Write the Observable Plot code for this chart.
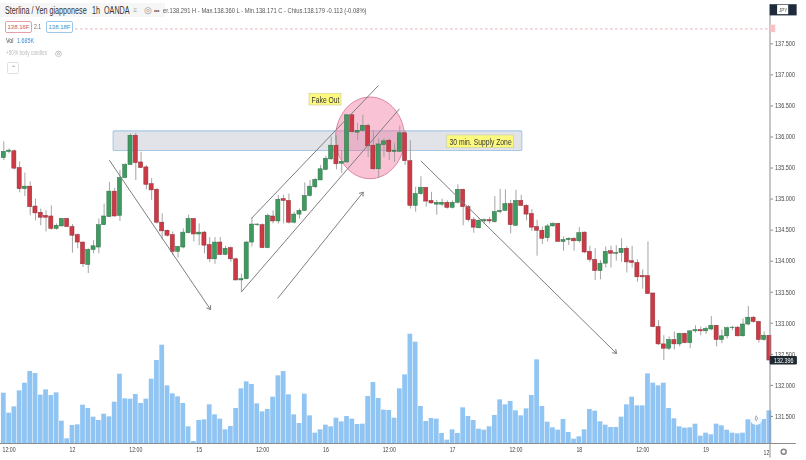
<!DOCTYPE html>
<html><head><meta charset="utf-8">
<script src="https://cdn.jsdelivr.net/npm/d3@7"></script>
<script src="https://cdn.jsdelivr.net/npm/@observablehq/plot@0.6"></script>
<style>
html,body{margin:0;padding:0;background:#fff;overflow:hidden}
#wrap{position:relative;width:806px;height:460px;filter:blur(.45px);font-family:"Liberation Sans",sans-serif}
#wrap>div.layer{position:absolute;left:0;top:0;width:806px;height:460px}
#wrap svg{position:absolute;left:0;top:0;background:transparent;overflow:visible;max-width:none}
.h{position:absolute;white-space:nowrap;line-height:1;transform-origin:0 50%;transform:scaleX(.72)}
.box{position:absolute;border-radius:2px;background:#fff;text-align:center;font-size:6px;line-height:10px;height:10px}
</style></head><body>
<div id="wrap">
<div style="position:absolute;left:0;top:3px;width:165px;height:14px;background:#f6f6f6"></div>
<div class="h" style="left:5px;top:6px;font-size:10px;color:#333">Sterlina / Yen giapponese</div>
<div class="h" style="left:92px;top:6px;font-size:10px;color:#333">1h</div>
<div class="h" style="left:104px;top:6px;font-size:10px;color:#333">OANDA</div>
<div class="h" style="left:133px;top:6px;font-size:9px;color:#aaa">≡</div>
<div class="h" style="left:144px;top:6px;font-size:9px;color:#999;transform:none">◎</div>
<div class="h" style="left:154px;top:7px;font-size:7px;color:#555">•••</div>
<div class="h" style="left:163px;top:7px;font-size:7.4px;color:#555;transform:scaleX(.785)">er.138.291 H - Max.138.360 L - Min.138.171 C - Chius.138.179 -0.113 (-0.08%)</div>
<div class="box" style="left:5px;top:21px;width:25px;border:1px solid #e6a0a8;color:#c25a66">138.16F</div>
<div class="h" style="left:34px;top:23px;font-size:7px;color:#666">2.1</div>
<div class="box" style="left:46px;top:21px;width:25px;border:1px solid #9cc8ea;color:#4a8fc4">138.18F</div>
<div class="h" style="left:6px;top:37px;font-size:7.5px;color:#444">Vol</div>
<div class="h" style="left:17px;top:37px;font-size:7.5px;color:#3f8fd0">1.685K</div>
<div class="h" style="left:6px;top:50px;font-size:6.5px;color:#bbb">+50% body candles</div>
<div class="h" style="left:55px;top:50px;font-size:8px;color:#999;transform:none">◎</div>
<div class="box" style="left:7px;top:62px;width:10px;border:1px solid #e2e2e2;color:#777;font-size:6px">⌃</div>
<div class="layer" id="vol"></div>
<div class="layer" id="price"></div>
</div>
<script>
const high=[135.92,135.81,135.79,135.60,135.42,135.28,135.00,134.84,134.81,134.89,134.60,134.69,134.69,134.59,134.44,134.31,134.20,134.33,134.68,134.92,135.27,135.17,135.46,135.57,136.05,136.06,135.75,135.54,135.33,135.17,134.76,134.50,134.47,134.24,134.52,134.74,134.68,134.60,134.48,134.38,134.38,134.38,134.24,134.23,134.05,133.79,134.32,134.70,134.60,134.60,134.76,134.81,135.06,135.06,135.08,134.79,134.84,135.26,135.30,135.33,135.54,135.69,136.00,136.02,135.78,136.35,136.35,136.22,136.35,136.21,136.10,135.97,135.97,135.97,135.89,136.18,136.10,135.94,135.19,135.36,135.18,135.11,134.98,135.00,134.97,134.97,135.23,135.16,134.90,134.70,134.68,134.68,134.70,135.04,135.16,135.15,134.98,135.14,135.06,134.91,134.83,134.66,134.55,134.59,134.62,134.61,134.39,134.38,134.38,134.54,134.47,134.24,134.20,134.01,134.23,134.24,134.25,134.36,134.23,134.24,134.02,133.86,134.31,133.48,133.04,132.80,132.78,132.86,132.84,132.84,132.88,132.96,132.94,132.94,133.11,132.96,132.89,132.94,132.95,132.95,133.07,133.27,133.11,133.03,132.86,132.80];
const low=[135.62,135.73,135.47,135.10,135.04,134.73,134.65,134.57,134.47,134.50,134.50,134.55,134.54,134.13,134.20,133.90,133.80,134.12,134.12,134.57,134.71,134.71,134.64,135.33,135.54,135.30,135.49,135.15,134.98,134.60,134.34,134.39,134.09,134.05,134.20,134.44,134.31,134.25,134.12,133.98,133.95,134.09,134.09,133.98,133.68,133.50,133.70,134.23,134.56,134.20,134.20,134.60,134.60,134.60,134.60,134.60,134.68,134.80,135.03,135.17,135.30,135.46,135.62,135.47,135.41,135.58,136.06,135.94,136.08,135.67,135.46,135.33,135.67,135.62,135.59,135.76,135.54,134.84,134.79,135.06,134.87,134.92,134.74,134.88,134.84,134.84,134.92,134.57,134.63,134.45,134.52,134.60,134.60,134.61,134.76,134.81,134.44,134.56,134.88,134.65,134.48,134.08,134.27,134.31,134.55,134.31,134.16,134.25,134.16,134.29,134.12,133.98,133.69,133.70,133.89,133.89,134.00,133.98,133.81,133.89,133.66,133.55,133.47,132.93,132.64,132.40,132.56,132.57,132.62,132.67,132.59,132.84,132.80,132.82,132.88,132.62,132.67,132.75,132.88,132.78,132.78,132.96,133.00,132.68,132.71,132.40];
const openPrice=[135.66,135.76,135.77,135.50,135.16,135.20,134.88,134.78,134.73,134.72,134.52,134.56,134.68,134.55,134.42,134.30,133.94,134.18,134.22,134.58,134.71,135.12,134.73,135.34,135.55,136.02,135.59,135.51,135.24,135.15,134.62,134.49,134.42,134.15,134.22,134.45,134.68,134.43,134.46,134.26,134.03,134.30,134.10,134.21,134.03,133.69,133.71,134.30,134.58,134.58,134.21,134.72,134.64,135.00,134.97,134.62,134.75,134.81,135.05,135.19,135.30,135.47,135.64,135.86,135.57,135.59,136.35,136.07,136.10,136.18,135.86,135.48,135.87,135.94,135.76,135.76,136.06,135.61,134.89,135.08,135.18,134.97,134.91,134.91,134.94,134.86,134.94,135.15,134.87,134.66,134.53,134.64,134.66,134.63,134.79,134.81,134.92,134.57,134.97,134.89,134.76,134.55,134.49,134.37,134.56,134.60,134.31,134.34,134.36,134.32,134.46,134.15,134.02,133.84,133.96,134.16,134.12,134.13,134.20,134.00,133.97,133.76,133.76,133.48,132.94,132.66,132.59,132.73,132.66,132.83,132.68,132.87,132.89,132.87,132.90,132.96,132.73,132.79,132.92,132.93,132.79,132.98,133.09,133.02,132.73,132.80];
const closePrice=[135.76,135.78,135.49,135.16,135.20,134.87,134.77,134.70,134.70,134.52,134.57,134.68,134.55,134.41,134.30,133.95,134.18,134.24,134.58,134.72,135.12,134.72,135.34,135.55,136.02,135.58,135.50,135.23,135.14,134.62,134.48,134.41,134.15,134.23,134.46,134.68,134.43,134.46,134.25,134.03,134.30,134.10,134.20,134.03,133.69,133.71,134.30,134.59,134.59,134.21,134.73,134.64,134.99,134.97,134.62,134.75,134.81,135.05,135.20,135.31,135.48,135.65,135.86,135.56,135.60,136.35,136.08,136.10,136.18,135.85,135.48,135.88,135.93,135.76,135.78,136.06,135.61,134.89,135.08,135.18,134.96,134.93,134.94,134.94,134.86,134.94,135.15,134.87,134.66,134.54,134.65,134.66,134.64,134.79,134.81,134.92,134.58,134.97,134.89,134.75,134.54,134.49,134.36,134.56,134.60,134.31,134.34,134.36,134.32,134.45,134.14,134.02,133.84,133.96,134.15,134.12,134.13,134.20,133.98,133.97,133.74,133.74,133.47,132.94,132.66,132.59,132.73,132.66,132.83,132.68,132.87,132.89,132.87,132.91,132.96,132.73,132.79,132.92,132.93,132.79,132.98,133.09,133.02,132.73,132.80,132.40];
const volume=[151,91,110,158,181,216,210,145,161,144,152,67,14,54,56,115,105,79,69,88,80,124,208,134,133,147,120,133,193,249,295,173,149,140,120,50,6,69,71,116,86,73,41,51,105,164,185,177,119,95,102,139,203,216,146,86,60,148,83,31,41,55,50,76,65,81,73,57,58,141,183,135,100,99,76,164,206,328,304,111,66,75,73,30,10,41,30,107,81,69,43,40,50,84,131,116,126,98,83,104,144,251,111,64,47,40,72,33,13,20,41,102,97,65,55,48,48,79,116,139,113,113,209,181,173,181,105,74,50,46,47,58,22,31,26,58,53,40,31,29,31,71,75,78,72,98];
const priceTicks=[137.5,137,136.5,136,135.5,135,134.5,134,133.5,133,132.5,132,131.5];
const timeTicks=[1,13,25,37,49,61,73,85,97,109,121,133];
const timeLabels=["12:00","12","12:00","15","12:00","16","12:00","17","12:00","18","12:00","19"];

const W=806,H=460,mR=36.5,mB=17;
const xDomain=[-0.625,145.11];
const yDomain=[131.064,138.198];
const idx=d3.range(high.length);
const candles=idx.map(i=>({i,open:openPrice[i],close:closePrice[i],high:high[i],low:low[i]}));
const up="#3f9a5f",dn="#cb3a45";

document.getElementById("vol").append(Plot.plot({
  width:W,height:H,marginLeft:0,marginRight:mR,marginTop:0,marginBottom:mB,
  x:{domain:xDomain,axis:null},
  y:{domain:[0,328],range:[443,333.7],axis:null},
  style:{background:"transparent"},
  marks:[
    Plot.rect(idx,{x1:i=>i-0.45,x2:i=>i+0.45,y1:0,y2:i=>volume[i],fill:"#90c5f3"})
  ]
}));

// annotation geometry in chart (bar index, price) units
const zone={x1:20.8,x2:98.2,y1:136.09,y2:135.775};
const fake={x1:57.9,x2:63.96,y1:136.696,y2:136.507,tx:60.93,ty:136.6};
const supply={x1:83.98,x2:96.6,y1:136.024,y2:135.82,tx:90.3,ty:135.92};
const circle={cx:69.36,cy:135.986,rx:6.53,ry:0.657};
const ring=d3.range(0,73).map(k=>({x:circle.cx+circle.rx*Math.cos(k*Math.PI/36),y:circle.cy+circle.ry*Math.sin(k*Math.PI/36)}));
const channel=[{x1:46.9,y1:134.688,x2:70.96,y2:136.829},{x1:44.96,y1:133.501,x2:74.94,y2:136.454}];
const arrows=[{x1:20.02,y1:135.622,x2:39.15,y2:133.222},{x1:51.9,y1:133.404,x2:68.07,y2:135.111},{x1:79.05,y1:135.61,x2:116.04,y2:132.514}];
const ink="#7e7e7e";

const chart=Plot.plot({
  width:W,height:H,marginLeft:0,marginRight:mR,marginTop:0,marginBottom:mB,
  x:{domain:xDomain,axis:null},
  y:{domain:yDomain,axis:null},
  style:{background:"transparent",fontFamily:"'Liberation Sans',sans-serif"},
  marks:[
    Plot.rect([zone],{x1:"x1",x2:"x2",y1:"y1",y2:"y2",fill:"#e1e3e9",stroke:"#a8c9e6",strokeWidth:1.1,r:1}),
    Plot.line(ring,{x:"x",y:"y",fill:"#f06f9c",fillOpacity:0.42,stroke:"#dc84a4",strokeWidth:1}),
    Plot.ruleY([137.74],{x1:13.6,x2:145.1,stroke:"#e39aa0",strokeWidth:0.8,strokeDasharray:"2.5 2.5"}),
    Plot.ruleX(candles,{x:"i",y1:"low",y2:"high",stroke:"#9b9b9b",strokeWidth:0.9}),
    Plot.rect(candles,{x1:d=>d.i-0.39,x2:d=>d.i+0.39,y1:"open",y2:"close",
      fill:d=>d.close>=d.open?up:dn,stroke:d=>d.close>=d.open?"#2f6f46":"#8e2f38",strokeWidth:0.5}),
    Plot.link(channel,{x1:"x1",y1:"y1",x2:"x2",y2:"y2",stroke:ink,strokeWidth:1}),
    Plot.arrow(arrows,{x1:"x1",y1:"y1",x2:"x2",y2:"y2",stroke:ink,strokeWidth:1,headLength:6,headAngle:70,bend:0}),
    Plot.rect([fake,supply],{x1:"x1",x2:"x2",y1:"y1",y2:"y2",fill:"#fdf97f",stroke:"#cfd0a0",strokeWidth:0.7}),
    Plot.text([{t:"Fake Out",...fake},{t:"30 min. Supply Zone",...supply}],{x:"tx",y:"ty",text:"t",fontSize:8.8,fill:"#333"}),
    Plot.ruleX([145.11],{y1:138.13,y2:130.83,stroke:"#8d8d8d",strokeWidth:1}),
    Plot.ruleY([131.064],{x1:-0.625,x2:150.1,stroke:"#8d8d8d",strokeWidth:1}),
    Plot.axisY(priceTicks,{anchor:"right",tickFormat:".3f",tickSize:2.5,tickPadding:2.5,fontSize:7.2,stroke:"#888",color:"#444",label:null}),
    Plot.axisX(timeTicks,{anchor:"bottom",tickSize:0,tickPadding:4,fontSize:6.8,color:"#444",label:null,tickFormat:d=>timeLabels[timeTicks.indexOf(d)]}),
    Plot.text(["12"],{x:145,y:130.92,text:d=>d,textAnchor:"end",fontSize:6.8,fill:"#444"}),
    Plot.rect([0],{x1:145.15,x2:150.3,y1:132.465,y2:132.33,fill:"#1f2a33",r:1}),
    Plot.text(["132.396"],{x:147.7,y:132.396,text:d=>d,fontSize:7,fill:"#fff"}),
    Plot.rect([0],{x1:145.15,x2:150.25,y1:138.13,y2:137.95,fill:"#1f2a3a"}),
    Plot.rect([0],{x1:146.55,x2:148.65,y1:138.12,y2:137.97,fill:"#fff"}),
    Plot.text(["JPY"],{x:147.6,y:138.045,text:d=>d,fontSize:6,fill:"#555"}),
    Plot.rect([0],{x1:145.2,x2:146.2,y1:137.8,y2:137.68,fill:"#f6c3c8"}),
    Plot.dot([0],{x:142.5,y:131.46,r:6,fill:"#fff",fillOpacity:0.9,stroke:"none"}),
    Plot.text(["◊"],{x:142.5,y:131.46,text:d=>d,fontSize:8,fill:"#555"}),
    Plot.dot([0],{x:147.7,y:130.93,r:2.5,stroke:"#888",fill:"none"})
  ]
});
document.getElementById("price").append(chart);
// the reference uses a narrow face: condense every label horizontally
chart.querySelectorAll("text").forEach(t=>{
  const n=t.getComputedTextLength();
  if(n>0){t.setAttribute("textLength",(n*0.77).toFixed(1));t.setAttribute("lengthAdjust","spacingAndGlyphs");}
});
</script>
</body></html>
